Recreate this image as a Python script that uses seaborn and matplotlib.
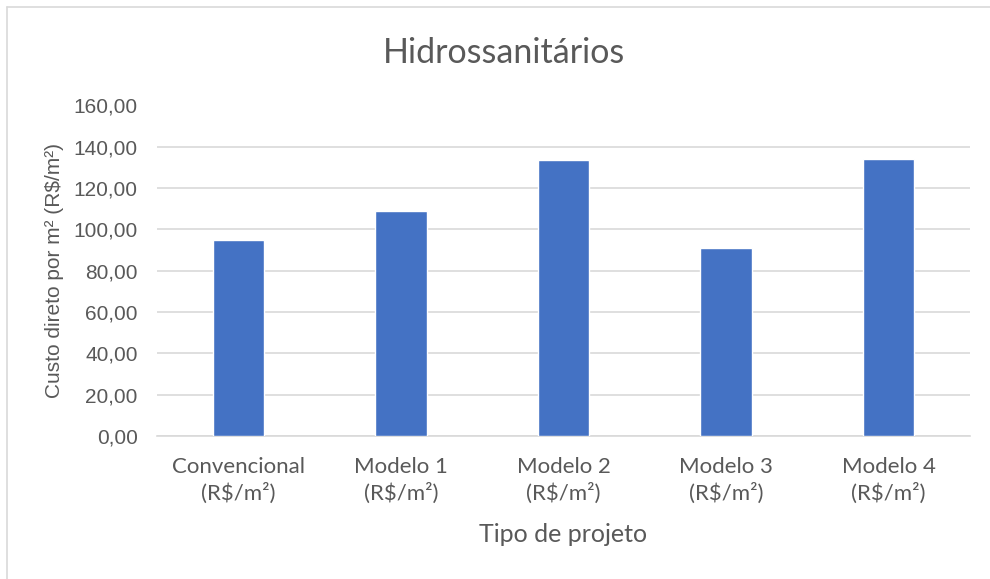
import matplotlib
matplotlib.use("Agg")
import matplotlib.pyplot as plt
import seaborn as sns
import pandas as pd
from matplotlib.ticker import FuncFormatter, MultipleLocator
from matplotlib.lines import Line2D

categories = ["Convencional", "Modelo 1", "Modelo 2", "Modelo 3", "Modelo 4"]
tick_labels = ["Convencional\n(R$/m²)", "Modelo 1\n(R$/m²)", "Modelo 2\n(R$/m²)",
               "Modelo 3\n(R$/m²)", "Modelo 4\n(R$/m²)"]
values = [94.8, 108.9, 133.5, 90.8, 134.0]

title = "Hidrossanitários"
xlabel = "Tipo de projeto"
ylabel = "Custo direto por m² (R$/m²)"

sns.set_theme(style="white")
plt.rcParams["font.family"] = ["Liberation Sans", "DejaVu Sans"]

W, H = 990, 579
fig = plt.figure(figsize=(W / 100, H / 100), dpi=100)
ax = fig.add_axes([157 / W, 1 - 436 / H, (970 - 157) / W, (436 - 105.5) / H])

df = pd.DataFrame({"cat": categories, "val": values})
sns.barplot(data=df, x="cat", y="val", color="#4472C4", saturation=1,
            width=0.315, ax=ax, zorder=3)

ax.set_xlim(-0.5, 4.5)
ax.set_ylim(0, 160)
ax.yaxis.set_major_locator(MultipleLocator(20))
ax.yaxis.set_major_formatter(FuncFormatter(lambda v, p: f"{v:.2f}".replace(".", ",")))
ax.grid(axis="y", color="#d9d9d9", linewidth=1.2, zorder=0)
ax.set_axisbelow(True)
for s in ["top", "right", "left"]:
    ax.spines[s].set_visible(False)
ax.spines["bottom"].set_color("#d9d9d9")
ax.spines["bottom"].set_linewidth(1.2)
ax.tick_params(axis="both", length=0)
ax.tick_params(axis="y", pad=14, labelsize=15, labelcolor="#595959")

ax.set_xticks(range(len(categories)))
ax.set_xticklabels(tick_labels, family=["Lato", "DejaVu Sans"], fontsize=16,
                   color="#595959", linespacing=1.35)
ax.tick_params(axis="x", pad=15)

ax.set_xlabel(xlabel, family=["Lato", "DejaVu Sans"], fontsize=18,
              color="#595959", labelpad=14)
ax.set_ylabel(ylabel, fontsize=15, color="#595959", labelpad=7)

fig.text(504 / W, 1 - 53 / H, title, ha="center", va="center",
         family=["Lato", "DejaVu Sans"], fontsize=24.5, color="#595959")

# chart area border (top and left visible)
fig.add_artist(Line2D([7 / W, 1], [1 - 7 / H, 1 - 7 / H], color="#d9d9d9", linewidth=1.2))
fig.add_artist(Line2D([7 / W, 7 / W], [0, 1 - 7 / H], color="#d9d9d9", linewidth=1.2))

fig.savefig("out.png", dpi=100, facecolor="white")
